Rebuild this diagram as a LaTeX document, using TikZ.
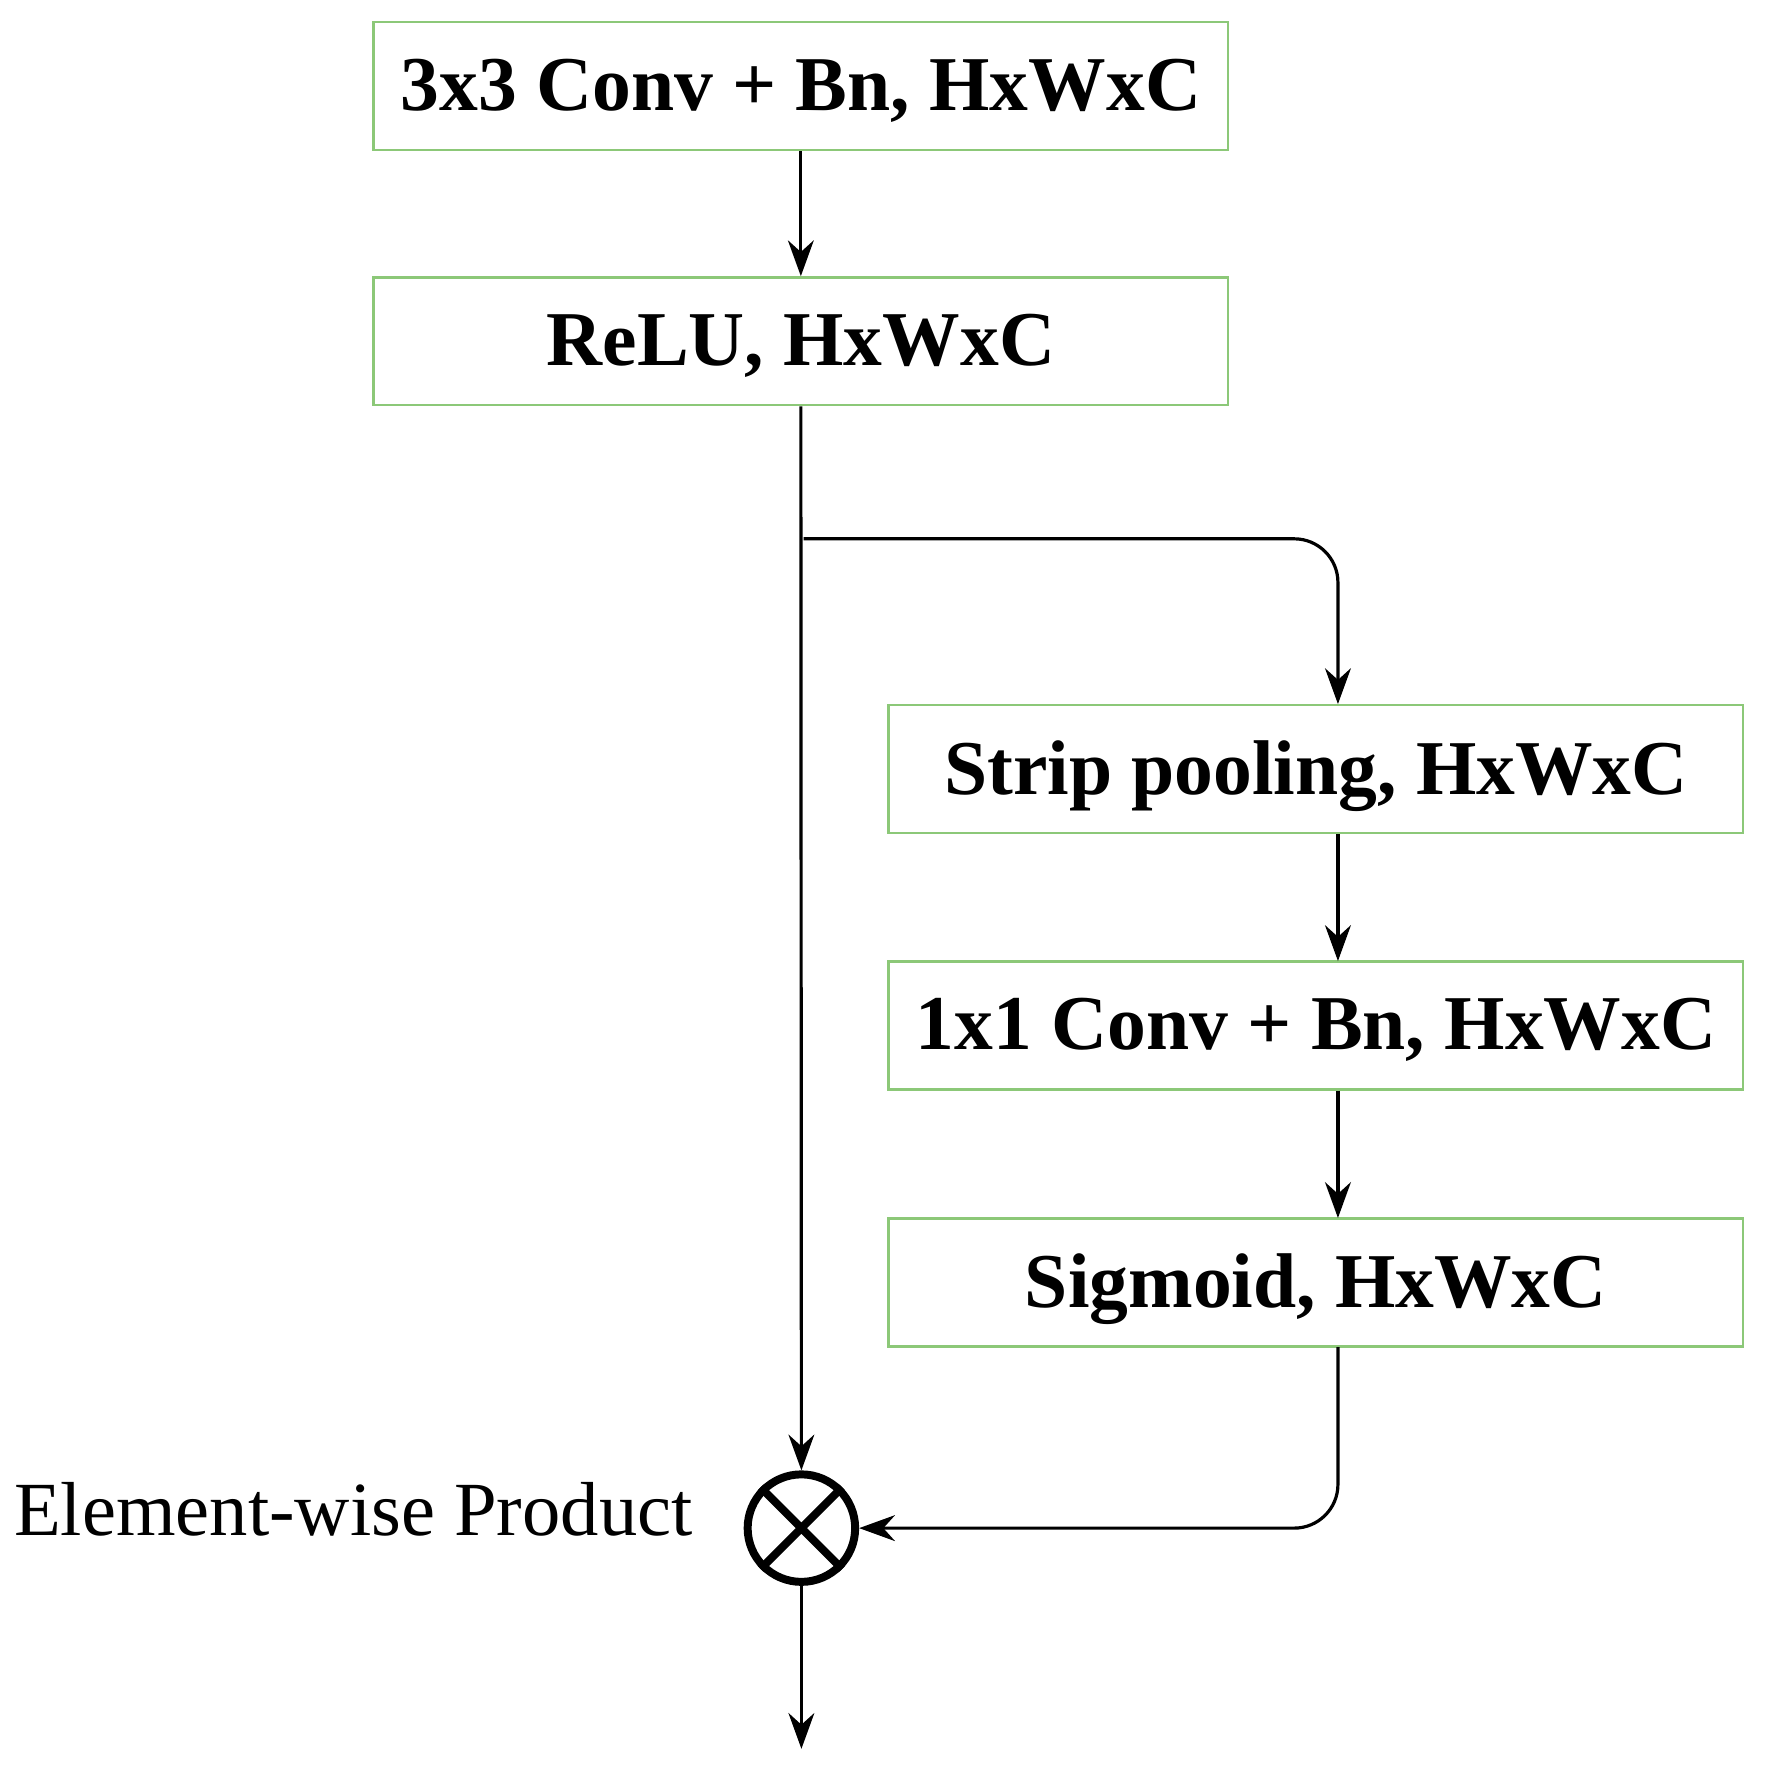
\documentclass[tikz,border=0pt]{standalone}
\usepackage{fontspec}
\setmainfont{Liberation Serif}
\usetikzlibrary{arrows.meta}
\definecolor{bgreen}{RGB}{140,200,120}
\begin{document}
\begin{tikzpicture}[x=0.02cm,y=-0.02cm,
  box/.style={draw=bgreen,line width=1.2pt,minimum width=15.1cm,minimum height=2.26cm,inner sep=0pt,text depth=0.05cm,font=\fontsize{39}{42}\selectfont\bfseries},
  arr/.style={line width=1.6pt,-{Stealth[length=18pt,width=13pt]}},
  ln/.style={line width=1.6pt}]
\useasboundingbox (0,0) rectangle (1560,1569);
\node[box] (b1) at (707.5,76) {3x3 Conv + Bn, HxWxC};
\node[box] (b2) at (707.5,301.5) {ReLU, HxWxC};
\node[box] (b3) at (1162.5,679.5) {Strip pooling, HxWxC};
\node[box] (b4) at (1162.5,906) {1x1 Conv + Bn, HxWxC};
\node[box] (b5) at (1162.5,1133) {Sigmoid, HxWxC};
\node[circle,draw,line width=4pt,minimum size=1.9cm,inner sep=0pt] (m) at (708,1350) {};
\draw[line width=4pt] (m.north west) -- (m.south east) (m.north east) -- (m.south west);
\node[font=\fontsize{38.5}{42}\selectfont,anchor=east] (lab) at (618,1333) {Element-wise Product};
\coordinate (br) at (710,476);
\coordinate (t3) at (1182,622);
\coordinate (s5) at (1182,1190);
\coordinate (t4) at (1182,849);
\coordinate (t5) at (1182,1076);
\coordinate (out) at (708,1545);
\draw[arr] (b1) -- (b2);
\draw[arr] (b2.south) -- (m.north);
\draw[arr,rounded corners=22pt] (br) -| (t3);
\draw[arr] (t3 |- b3.south) -- (t4);
\draw[arr] (t4 |- b4.south) -- (t5);
\draw[arr,rounded corners=22pt] (s5) |- (m.east);
\draw[arr] (m.south) -- (out);
\end{tikzpicture}
\end{document}
